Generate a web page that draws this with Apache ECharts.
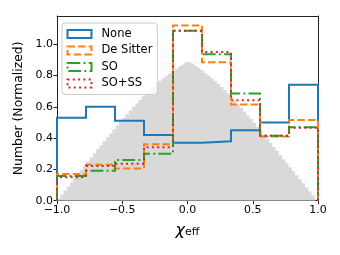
<!DOCTYPE html>
<html>
<head>
<meta charset="utf-8">
<script src="https://cdn.jsdelivr.net/npm/echarts@6/dist/echarts.min.js"></script>
<style>html,body{margin:0;padding:0;background:#fff}#c{width:340px;height:255px}</style>
</head>
<body>
<div id="c"></div>
<script>
// Bin edges of the coarse step histograms
var binEdges = [-1, -0.7778, -0.5556, -0.3333, -0.1111, 0.1111, 0.3333, 0.5556, 0.7778, 1];
// Series values (normalized counts per bin)
var seriesNames = ['None', 'De Sitter', 'SO', 'SO+SS'];
var noneVals     = [0.53, 0.60, 0.51, 0.42, 0.37, 0.38, 0.45, 0.50, 0.74];
var deSitterVals = [0.17, 0.23, 0.205, 0.36, 1.12, 0.885, 0.615, 0.41, 0.515];
var soVals       = [0.158, 0.192, 0.26, 0.30, 1.085, 0.935, 0.685, 0.415, 0.47];
var soSsVals     = [0.15, 0.222, 0.236, 0.342, 1.085, 0.95, 0.642, 0.415, 0.466];
// Background fine histogram (grey), bins of width 0.025 from -1 to 1
var bgEdgeStart = -1, bgBinWidth = 0.025;
var bgVals = [0.013, 0.04, 0.065, 0.09, 0.118, 0.145, 0.17, 0.197, 0.223, 0.25,
              0.276, 0.302, 0.328, 0.354, 0.38, 0.405, 0.43, 0.456, 0.48, 0.505,
              0.53, 0.553, 0.577, 0.60, 0.623, 0.645, 0.667, 0.688, 0.708, 0.728,
              0.747, 0.765, 0.782, 0.798, 0.813, 0.827, 0.84, 0.855, 0.868, 0.885,
              0.89, 0.876, 0.862, 0.848, 0.832, 0.816, 0.80, 0.783, 0.765, 0.747,
              0.727, 0.706, 0.685, 0.663, 0.64, 0.617, 0.594, 0.57, 0.546, 0.522,
              0.497, 0.472, 0.447, 0.421, 0.395, 0.369, 0.343, 0.317, 0.291, 0.265,
              0.24, 0.214, 0.188, 0.162, 0.137, 0.111, 0.085, 0.06, 0.034, 0.01];
// Tick labels
var xTicks = [-1, -0.5, 0, 0.5, 1];
var yTicks = [0, 0.2, 0.4, 0.6, 0.8, 1.0];

function stepPoints(edges, vals) {
  var pts = [[edges[0], 0]];
  for (var i = 0; i < vals.length; i++) {
    pts.push([edges[i], vals[i]]);
    pts.push([edges[i + 1], vals[i]]);
  }
  pts.push([edges[edges.length - 1], 0]);
  return pts;
}
var bgEdges = [];
for (var k = 0; k <= bgVals.length; k++) bgEdges.push(+(bgEdgeStart + k * bgBinWidth).toFixed(4));

function fmt(v, d) {
  var s = Math.abs(v).toFixed(d);
  return (v < 0 ? '\u2212' : '') + s;
}

var colors = ['#1f77b4', '#ff7f0e', '#2ca02c', '#d62728'];
var dashes = ['solid', [7.4, 3.2], [12.8, 3.2, 2, 3.2], [2, 3.3]];
var valsList = [noneVals, deSitterVals, soVals, soSsVals];

var series = [{
  name: 'bg', type: 'line', data: stepPoints(bgEdges, bgVals), showSymbol: false, symbol: 'none',
  lineStyle: { width: 0, color: '#d9d9d9' }, areaStyle: { color: '#d9d9d9', opacity: 1 },
  silent: true, z: 1, animation: false
}];
for (var s = 0; s < 4; s++) {
  series.push({
    name: seriesNames[s], type: 'line', data: stepPoints(binEdges, valsList[s]),
    symbol: 'none', showSymbol: false,
    lineStyle: { width: 2, color: colors[s], type: dashes[s], cap: 'butt', join: 'miter' },
    itemStyle: { color: colors[s] },
    z: 2 + s, animation: false
  });
}

var legendData = [];
for (var s2 = 0; s2 < 4; s2++) {
  legendData.push({
    name: seriesNames[s2], icon: 'rect',
    itemStyle: { color: 'rgba(255,255,255,0)', borderColor: colors[s2], borderWidth: 2, borderType: dashes[s2] }
  });
}

var chart = echarts.init(document.getElementById('c'), null, { renderer: 'canvas' });
chart.setOption({
  animation: false,
  backgroundColor: '#fff',
  textStyle: { fontFamily: 'DejaVu Sans' },
  grid: { left: 57, right: 22, top: 16, bottom: 54.3, containLabel: false },
  legend: {
    data: legendData, orient: 'vertical', left: 62, top: 23,
    itemWidth: 24, itemHeight: 8, itemGap: 4.5,
    padding: [5, 5, 5, 4.5],
    backgroundColor: 'rgba(255,255,255,0.8)', borderColor: '#cccccc', borderWidth: 1, borderRadius: 3,
    textStyle: { fontFamily: 'DejaVu Sans', fontSize: 11.5, color: '#000', padding: [0, 0, 0, 5] },
    selectedMode: false
  },
  xAxis: [{
    type: 'value', min: -1, max: 1, interval: 0.5,
    name: '{a|\u03c7}{b|eff}', nameLocation: 'middle', nameGap: 22,
    nameTextStyle: {
      rich: {
        a: { fontFamily: 'DejaVu Sans', fontStyle: 'italic', fontSize: 16, color: '#000' },
        b: { fontFamily: 'DejaVu Sans', fontSize: 11, color: '#000', padding: [3, 0, 0, 0] }
      }
    },
    axisLine: { show: true, onZero: false, lineStyle: { color: '#222', width: 1 } },
    axisTick: { show: true, length: 3.5, inside: false, lineStyle: { color: '#222', width: 1 }, customValues: xTicks },
    axisLabel: { fontFamily: 'DejaVu Sans', fontSize: 11, color: '#000', margin: 4, customValues: xTicks,
      formatter: function (v) { return fmt(v, 1); } },
    splitLine: { show: false }
  }, {
    type: 'value', min: -1, max: 1, position: 'top',
    axisLine: { show: true, onZero: false, lineStyle: { color: '#222', width: 1 } },
    axisTick: { show: false }, axisLabel: { show: false }, splitLine: { show: false }
  }],
  yAxis: [{
    type: 'value', min: 0, max: 1.18,
    name: 'Number (Normalized)', nameLocation: 'middle', nameGap: 32,
    nameTextStyle: { fontFamily: 'DejaVu Sans', fontSize: 12.4, color: '#000' },
    axisLine: { show: true, onZero: false, lineStyle: { color: '#222', width: 1 } },
    axisTick: { show: true, length: 3.5, lineStyle: { color: '#222', width: 1 }, customValues: yTicks },
    axisLabel: { fontFamily: 'DejaVu Sans', fontSize: 11, color: '#000', margin: 4, customValues: yTicks,
      formatter: function (v) { return fmt(v, 1); } },
    splitLine: { show: false }
  }, {
    type: 'value', min: 0, max: 1.18, position: 'right',
    axisLine: { show: true, onZero: false, lineStyle: { color: '#222', width: 1 } },
    axisTick: { show: false }, axisLabel: { show: false }, splitLine: { show: false }
  }],
  series: series
});
</script>
</body>
</html>
